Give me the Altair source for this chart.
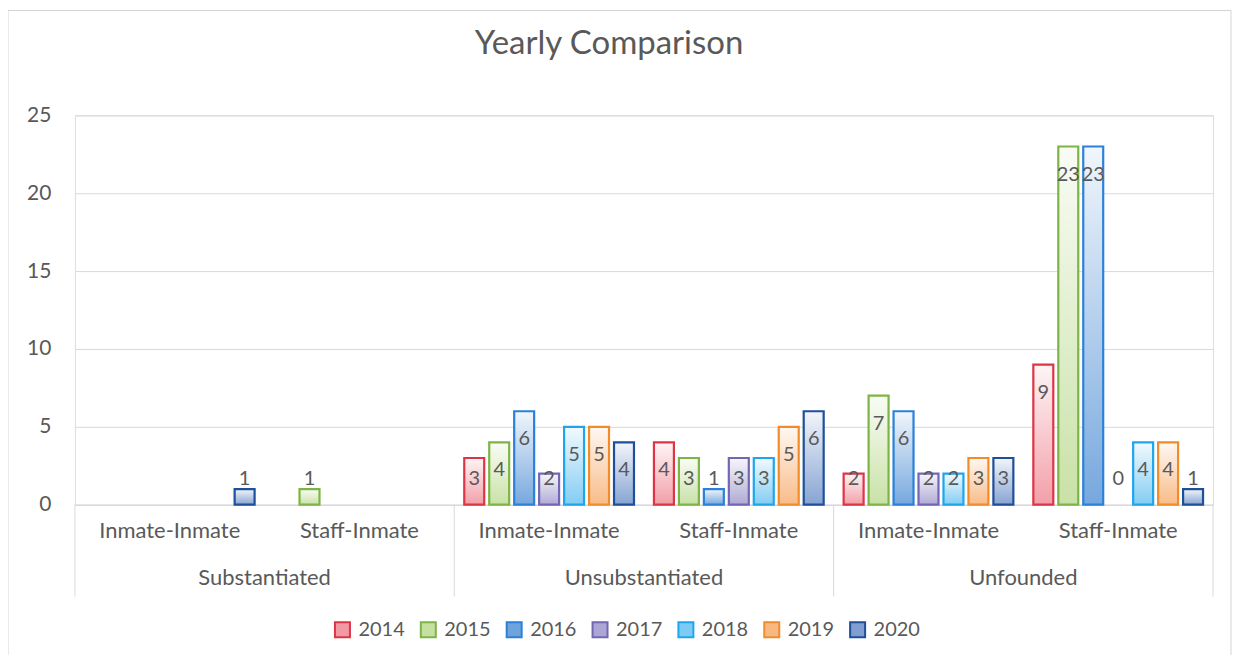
import altair as alt
import pandas as pd

chart_title = "Yearly Comparison"
years = ["2014", "2015", "2016", "2017", "2018", "2019", "2020"]
groups = ["Substantiated", "Unsubstantiated", "Unfounded"]
subs = ["Inmate-Inmate", "Staff-Inmate"]

subst_inmate = [None, None, None, None, None, None, 1]
subst_staff = [None, 1, None, None, None, None, None]
unsub_inmate = [3, 4, 6, 2, 5, 5, 4]
unsub_staff = [4, 3, 1, 3, 3, 5, 6]
unf_inmate = [2, 7, 6, 2, 2, 3, 3]
unf_staff = [9, 23, 23, 0, 4, 4, 1]

stroke_colors = ["#DE3546", "#7DB544", "#2A80DA", "#7466B5", "#1DA6EE", "#F28C28", "#1F4E9A"]
fill_colors = ["#F29AA4", "#C6E0A2", "#6FA3DC", "#ABA6D3", "#7DCAF2", "#F8B882", "#809FD0"]

series = {
    ("Substantiated", "Inmate-Inmate"): subst_inmate,
    ("Substantiated", "Staff-Inmate"): subst_staff,
    ("Unsubstantiated", "Inmate-Inmate"): unsub_inmate,
    ("Unsubstantiated", "Staff-Inmate"): unsub_staff,
    ("Unfounded", "Inmate-Inmate"): unf_inmate,
    ("Unfounded", "Staff-Inmate"): unf_staff,
}

keys = [f"{g}|{s}" for g in groups for s in subs]
rows = []
for (g, s), vals in series.items():
    for y, v in zip(years, vals):
        if v is not None:
            rows.append({"Key": f"{g}|{s}", "Year": y, "Value": v})
df = pd.DataFrame(rows)

group_df = pd.DataFrame({"Key": [f"{g}|{subs[0]}" for g in groups], "Label": groups})
left_div = pd.DataFrame({"Key": [f"{g}|{subs[0]}" for g in groups]})
right_div = pd.DataFrame({"Key": [f"{groups[-1]}|{subs[-1]}"]})

W, H = 1140, 390
FONT = "Lato"
TXT = "#595959"
GRID = "#d9d9d9"

x_enc = alt.X(
    "Key:N",
    scale=alt.Scale(domain=keys, paddingInner=0, paddingOuter=0),
    axis=alt.Axis(
        title=None, labelExpr="split(datum.value, '|')[1]", ticks=False,
        domainColor=GRID, labelFontSize=22, labelColor=TXT, labelFont=FONT,
        labelPadding=16, labelAngle=0, grid=False,
    ),
)
xoff = alt.XOffset("Year:N", scale=alt.Scale(domain=years, paddingInner=0.2, paddingOuter=0.4))
y_enc = alt.Y(
    "Value:Q",
    scale=alt.Scale(domain=[0, 25], nice=False),
    axis=alt.Axis(
        title=None, values=[0, 5, 10, 15, 20, 25], domain=False, ticks=False,
        gridColor=GRID, labelFontSize=21, labelColor=TXT, labelFont=FONT, labelPadding=24,
    ),
)

legend = alt.Legend(
    title=None, orient="none", direction="horizontal", legendX=258, legendY=505,
    labelFontSize=20, labelColor=TXT, labelFont=FONT, symbolType="square",
    symbolSize=225, symbolStrokeWidth=2, columnPadding=11, labelOffset=6,
)

base = alt.Chart(df).transform_filter("datum.Value > 0")

fill_layer = base.mark_bar(strokeWidth=0).encode(
    x=x_enc, xOffset=xoff, y=y_enc,
    fill=alt.Fill("Year:N", scale=alt.Scale(domain=years, range=fill_colors), legend=legend),
)

grad_layer = base.mark_bar(
    strokeWidth=0,
    fill=alt.Gradient(
        gradient="linear",
        stops=[
            alt.GradientStop(color="rgba(255,255,255,0.9)", offset=0),
            alt.GradientStop(color="rgba(255,255,255,0.05)", offset=1),
        ],
        x1=0, x2=0, y1=0, y2=1,
    ),
).encode(x="Key:N", xOffset=xoff, y="Value:Q")

stroke_layer = base.mark_bar(fillOpacity=0, strokeWidth=2.2).encode(
    x="Key:N", xOffset=xoff, y="Value:Q",
    stroke=alt.Stroke("Year:N", scale=alt.Scale(domain=years, range=stroke_colors), legend=legend),
)

labels = alt.Chart(df).transform_calculate(
    labelY="max(datum.Value - 1.8, 1.65)"
).mark_text(fontSize=20, color=TXT, font=FONT, baseline="middle").encode(
    x="Key:N", xOffset=xoff, y="labelY:Q", text="Value:Q",
)

group_labels = alt.Chart(group_df).mark_text(
    fontSize=22, color=TXT, font=FONT, baseline="middle"
).encode(
    x=alt.X("Key:N", bandPosition=1), y=alt.value(H + 73), text="Label:N",
)

rules_left = alt.Chart(left_div).mark_rule(color=GRID, strokeWidth=1).encode(
    x=alt.X("Key:N", bandPosition=0), y=alt.value(H), y2=alt.value(H + 92),
)
rules_right = alt.Chart(right_div).mark_rule(color=GRID, strokeWidth=1).encode(
    x=alt.X("Key:N", bandPosition=1), y=alt.value(H), y2=alt.value(H + 92),
)

frame = alt.Chart(pd.DataFrame({"f": [0]})).mark_rect(
    fill="transparent", stroke="#d4d4d4", strokeWidth=1
).encode(
    x=alt.value(-67), x2=alt.value(1158), y=alt.value(-105), y2=alt.value(546),
)

title_mark = alt.Chart(pd.DataFrame({"t": [chart_title]})).mark_text(
    fontSize=33, color=TXT, font=FONT, baseline="middle", align="center"
).encode(
    x=alt.value(W / 2 - 35), y=alt.value(-71), text="t:N",
)

chart = alt.layer(
    frame, title_mark, fill_layer, grad_layer, stroke_layer, labels, group_labels,
    rules_left, rules_right
).properties(
    width=W, height=H,
    autosize=alt.AutoSizeParams(type="none"),
    padding={"left": 67, "top": 107, "right": 20, "bottom": 150},
).configure_view(stroke=None).configure(background="white")

chart.save("out.html", embed_options={"renderer": "svg", "actions": False})
